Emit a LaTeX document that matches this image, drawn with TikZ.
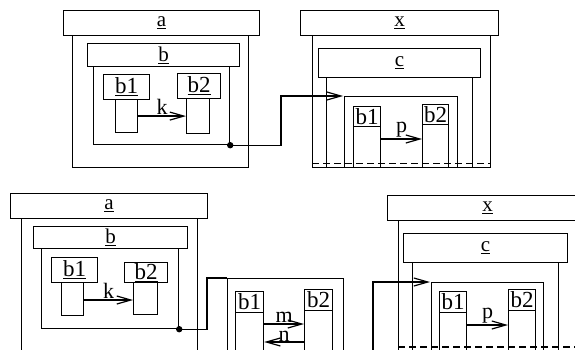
\documentclass[tikz,border=0pt]{standalone}
\usepackage{fontspec}
\setmainfont{Liberation Serif}
\usetikzlibrary{arrows.meta}

\begin{document}
\begin{tikzpicture}[x=1pt, y=-1pt, line width=1.2pt, >={Straight Barb[length=14pt, width=8pt]},
	hdr/.style={draw, fill=white, inner sep=0pt, anchor=north west, font=\fontsize{21}{21}\selectfont},
	bdy/.style={draw, inner sep=0pt, anchor=north west},
	part/.style={draw, fill=white, inner sep=0pt, anchor=north west, font=\fontsize{23}{23}\selectfont},
	msg/.style={inner sep=0pt, font=\fontsize{22}{22}\selectfont},
	cut/.style={dash pattern=on 7pt off 4pt}]
	\useasboundingbox (0,0) rectangle (575,350);
	\clip (0,0) rectangle (575,350);

	% a (oben links)
	\begin{scope}
		\node[bdy, minimum width=176pt, minimum height=132pt] (aBdA) at (72,35) {};
		\node[hdr, minimum width=196pt, minimum height=25pt] (aHdA) at (63,10) {\underline{a}};
		\node[bdy, minimum width=136pt, minimum height=78pt] (bBdA) at (93,66) {};
		\node[hdr, minimum width=152pt, minimum height=23pt] (bHdA) at (87,43) {\underline{b}};
		\node[bdy, minimum width=22pt, minimum height=33pt] (b1BdA) at (115,99) {};
		\node[part, minimum width=46pt, minimum height=25pt] (b1HdA) at (103,74) {\underline{b1}};
		\node[bdy, minimum width=23pt, minimum height=35pt] (b2BdA) at (186,98) {};
		\node[part, minimum width=43pt, minimum height=25pt] (b2HdA) at (177,73) {\underline{b2}};
		\draw[->] (b1BdA.east) -- (b1BdA.east -| b2BdA.west) node[msg, above=1pt, midway] {k};
		\fill (bBdA.south east) circle (3.2pt);
	\end{scope}

	% x (oben rechts)
	\begin{scope}
		\node[bdy, minimum width=178pt, minimum height=132pt] (xBdA) at (312,35) {};
		\node[hdr, minimum width=198pt, minimum height=25pt] (xHdA) at (300,10) {\underline{x}};
		\node[bdy, minimum width=146pt, minimum height=90pt] (cBdA) at (326,77) {};
		\node[hdr, minimum width=162pt, minimum height=29pt] (cHdA) at (318,48) {\underline{c}};
		\node[bdy, minimum width=113pt, minimum height=71pt] (inA) at (344,96) {};
		\node[bdy, minimum width=27pt, minimum height=41pt] (b1BdX) at (353,126) {};
		\node[part, minimum width=27pt, minimum height=20pt] (b1HdX) at (353,106) {b1};
		\node[bdy, minimum width=26pt, minimum height=43pt] (b2BdX) at (422,124) {};
		\node[part, minimum width=26pt, minimum height=20pt] (b2HdX) at (422,104) {b2};
		\draw[->] ([yshift=-13pt]b1BdX.north east) -- ([yshift=-13pt]b1BdX.north east -| b2BdX.west) node[msg, above=1pt, midway] {p};
		\draw[cut] ([yshift=5pt]xBdA.south west) -- ([yshift=5pt]xBdA.south east);
	\end{scope}

	\draw[->, shorten >=1pt] (bBdA.south east) -| ([xshift=-63pt]inA.north west) -- (inA.north west);

	% a (unten links)
	\begin{scope}
		\node[bdy, minimum width=176pt, minimum height=200pt] (aBdB) at (21,218) {};
		\node[hdr, minimum width=197pt, minimum height=25pt] (aHdB) at (10,193) {\underline{a}};
		\node[bdy, minimum width=137pt, minimum height=80pt] (bBdB) at (41,248) {};
		\node[hdr, minimum width=154pt, minimum height=22pt] (bHdB) at (33,226) {\underline{b}};
		\node[bdy, minimum width=22pt, minimum height=33pt] (b1BdB) at (61,282) {};
		\node[part, minimum width=46pt, minimum height=25pt] (b1HdB) at (51,257) {\underline{b1}};
		\node[bdy, minimum width=24pt, minimum height=32pt] (b2BdB) at (133,282) {};
		\node[part, minimum width=43pt, minimum height=20pt] (b2HdB) at (124,262) {\underline{b2}};
		\draw[->] ([yshift=-18pt]b1BdB.north east) -- ([yshift=-18pt]b1BdB.north east -| b2BdB.west) node[msg, above=1pt, midway] {k};
		\fill (bBdB.south east) circle (3.2pt);
	\end{scope}

	% m/n (unten Mitte)
	\begin{scope}
		\node[bdy, minimum width=116pt, minimum height=100pt] (inB) at (227,278) {};
		\node[bdy, minimum width=28pt, minimum height=50pt] (b1BdM) at (235,312) {};
		\node[part, minimum width=28pt, minimum height=21pt] (b1HdM) at (235,291) {b1};
		\node[bdy, minimum width=28pt, minimum height=50pt] (b2BdM) at (304,310) {};
		\node[part, minimum width=28pt, minimum height=21pt] (b2HdM) at (304,289) {b2};
		\draw[->] ([yshift=-12pt]b1BdM.north east) -- ([yshift=-12pt]b1BdM.north east -| b2BdM.west) node[msg, above=1pt, midway] {m};
		\draw[->] ([yshift=-30pt]b1BdM.north east -| b2BdM.west) -- ([yshift=-30pt]b1BdM.north east) node[msg, above=0pt, midway] {n};
	\end{scope}

	\draw (bBdB.south east) -| ([xshift=-20pt]inB.north west) -- (inB.north west);

	% x (unten rechts)
	\begin{scope}
		\node[bdy, minimum width=200pt, minimum height=200pt] (xBdB) at (398,220) {};
		\node[hdr, minimum width=200pt, minimum height=25pt] (xHdB) at (387,195) {\underline{x}};
		\node[bdy, minimum width=146pt, minimum height=100pt] (cBdB) at (412,262) {};
		\node[hdr, minimum width=164pt, minimum height=29pt] (cHdB) at (403,233) {\underline{c}};
		\node[bdy, minimum width=112pt, minimum height=100pt] (inC) at (431,282) {};
		\node[bdy, minimum width=27pt, minimum height=50pt] (b1BdC) at (439,312) {};
		\node[part, minimum width=27pt, minimum height=21pt] (b1HdC) at (439,291) {b1};
		\node[bdy, minimum width=27pt, minimum height=50pt] (b2BdC) at (508,310) {};
		\node[part, minimum width=27pt, minimum height=21pt] (b2HdC) at (508,289) {b2};
		\draw[->] ([yshift=-13pt]b1BdC.north east) -- ([yshift=-13pt]b1BdC.north east -| b2BdC.west) node[msg, above=1pt, midway] {p};
		\draw[cut] (398,347) -- (580,347);
	\end{scope}

	\coordinate (tailC) at (373,360);
	\draw[->, shorten >=1pt] (tailC) |- (inC.north west);
\end{tikzpicture}
\end{document}
